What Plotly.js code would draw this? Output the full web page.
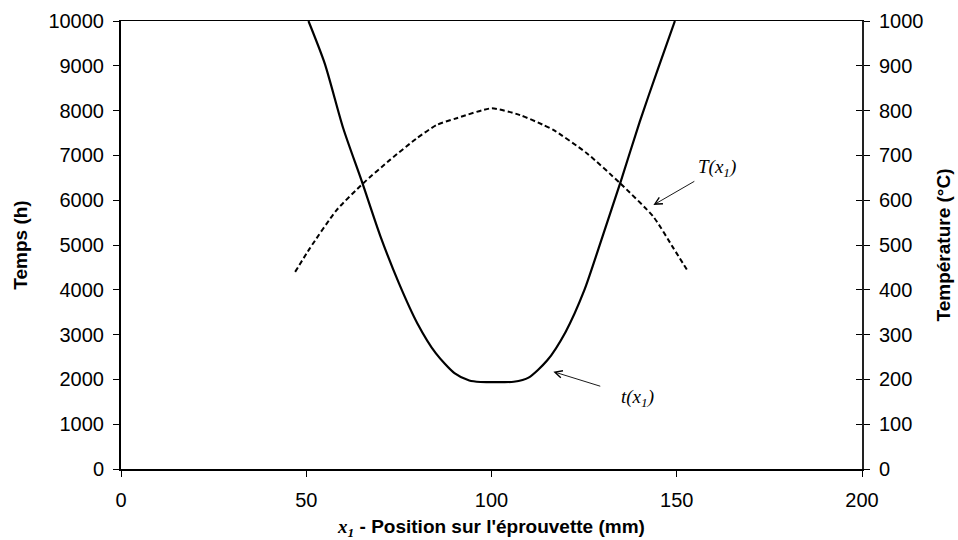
<!DOCTYPE html>
<html>
<head>
<meta charset="utf-8">
<script src="https://cdn.plot.ly/plotly-3.0.1.min.js"></script>
<style>html,body{margin:0;padding:0;background:#fff}#chart{width:958px;height:540px}</style>
</head>
<body>
<div id="chart"></div>
<script>
// t(x1) - time (h), left axis
const posTime = [50.6, 55, 60, 65, 70, 75, 80, 85, 90, 94, 97, 100, 103, 106, 110, 115, 120, 125, 130, 135, 140, 145, 149.5];
const timeH   = [10000, 9050, 7600, 6420, 5200, 4150, 3250, 2580, 2140, 1975, 1942, 1940, 1940, 1948, 2040, 2420, 3060, 3980, 5200, 6450, 7750, 8950, 10000];
// T(x1) - temperature (°C), right axis
const posTemp = [47.0, 51.0, 58.2, 65.4, 72.6, 79.8, 85.2, 90.6, 100, 107.7, 114.0, 116.7, 125.7, 134.7, 143.7, 149.1, 153.1];
const tempC   = [440, 493, 578, 638, 690, 738, 768, 783, 805, 790, 768, 757, 705, 638, 563, 493, 440];
const xTicks = [0, 50, 100, 150, 200];
const yTicks = [0, 1000, 2000, 3000, 4000, 5000, 6000, 7000, 8000, 9000, 10000];
const y2Ticks = [0, 100, 200, 300, 400, 500, 600, 700, 800, 900, 1000];

const tickFont = {family: 'Liberation Sans, Arial, sans-serif', size: 20, color: '#000'};
const titleFont = {family: 'Liberation Sans, Arial, sans-serif', size: 19, color: '#000'};
const serif = {family: 'Liberation Serif, Times New Roman, serif', size: 19, color: '#000'};

const data = [
  {x: posTime, y: timeH, type: 'scatter', mode: 'lines', yaxis: 'y',
   line: {color: '#000', width: 2.2, shape: 'spline', smoothing: 0.7}, hoverinfo: 'skip'},
  {x: posTemp, y: tempC, type: 'scatter', mode: 'lines', yaxis: 'y2',
   line: {color: '#000', width: 2, dash: '5px,3px', shape: 'spline', smoothing: 0.6}, hoverinfo: 'skip'},
  {x: [0], y: [0], yaxis: 'y3', mode: 'markers', marker: {opacity: 0}, hoverinfo: 'skip', showlegend: false}
];

const layout = {
  width: 958, height: 540,
  margin: {l: 121, r: 96, t: 21, b: 71},
  paper_bgcolor: '#fff', plot_bgcolor: '#fff',
  showlegend: false,
  xaxis: {
    range: [0, 200], tickvals: xTicks, ticktext: xTicks.map(String),
    ticks: 'outside', ticklen: 6, tickcolor: '#000', tickwidth: 1, ticklabelstandoff: 6,
    showline: true, linecolor: '#000', linewidth: 1.5, mirror: true,
    showgrid: false, zeroline: false, tickfont: tickFont,
    title: {text: '<b><span style="font-family:Liberation Serif;font-style:italic">x<sub>1</sub></span> - Position sur l\'éprouvette (mm)</b>', font: titleFont, standoff: 18}
  },
  yaxis: {
    range: [0, 10000], tickvals: yTicks, ticktext: yTicks.map(String),
    ticks: 'outside', ticklen: 6, tickcolor: '#000', tickwidth: 1, ticklabelstandoff: 5,
    showline: true, linecolor: '#000', linewidth: 2,
    showgrid: false, zeroline: false, tickfont: tickFont,
    title: {text: '<b>Temps (h)</b>', font: titleFont, standoff: 16}
  },
  yaxis2: {
    overlaying: 'y', side: 'right',
    range: [0, 1000], tickvals: y2Ticks, ticktext: y2Ticks.map(String),
    ticks: 'outside', ticklen: 6, tickcolor: '#000', tickwidth: 1, ticklabelstandoff: 5,
    showline: true, linecolor: '#222', linewidth: 2,
    showgrid: false, zeroline: false, tickfont: tickFont,
    title: {text: '<b>Température (°C)</b>', font: titleFont, standoff: 14}
  },
  yaxis3: {
    overlaying: 'y', side: 'right', anchor: 'x',
    range: [0, 1000], tickvals: y2Ticks,
    ticks: 'inside', ticklen: 6, tickcolor: '#000', tickwidth: 1,
    showticklabels: false, showline: false, showgrid: false, zeroline: false
  },
  annotations: [
    {x: 143.7, y: 5893, xref: 'x', yref: 'y', showarrow: true,
     ax: 64, ay: -37, arrowhead: 5, arrowsize: 1.6, arrowwidth: 0.9, arrowcolor: '#000',
     startstandoff: 3, text: '<i>T(x<sub>1</sub>)</i>', font: serif},
    {x: 116.7, y: 2172, xref: 'x', yref: 'y', showarrow: true,
     ax: 84, ay: 26, arrowhead: 5, arrowsize: 1.6, arrowwidth: 0.9, arrowcolor: '#000',
     startstandoff: 20, text: '<i>t(x<sub>1</sub>)</i>', font: serif}
  ]
};

Plotly.newPlot('chart', data, layout, {staticPlot: true, displayModeBar: false});
</script>
</body>
</html>
